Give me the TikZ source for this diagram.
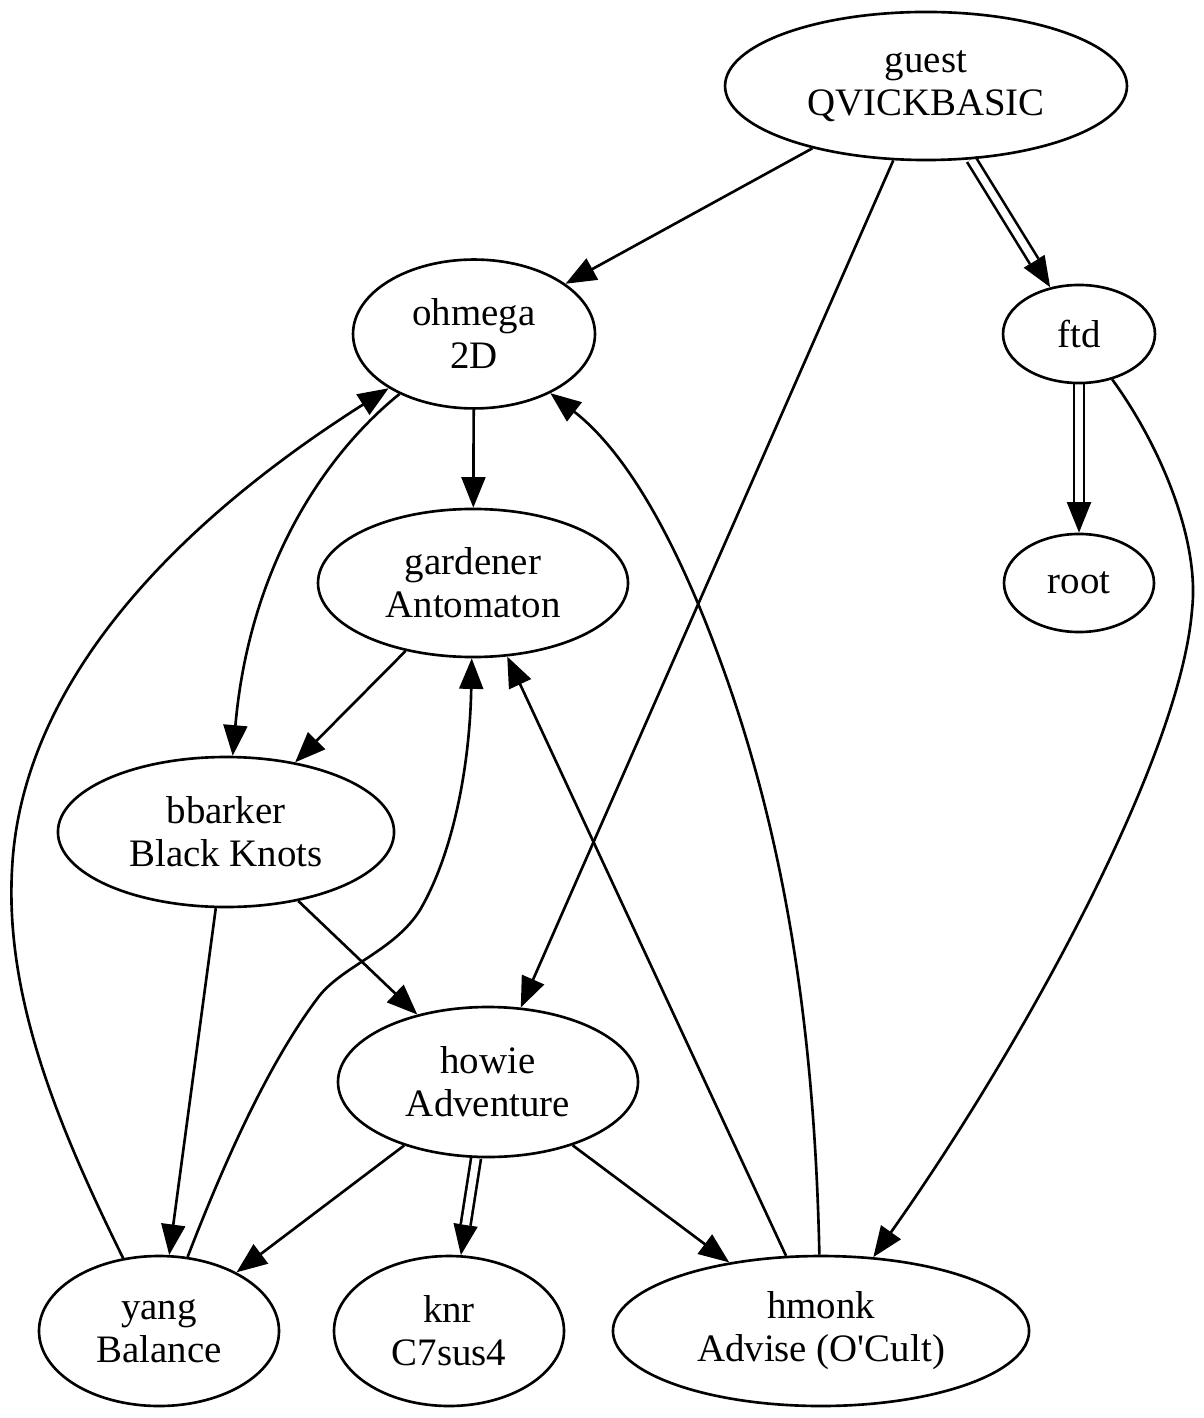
\documentclass[tikz,border=0pt]{standalone}
\usepackage{fontspec}
\setmainfont{Liberation Serif}
\usetikzlibrary{shapes.geometric,arrows.meta}
\pgfdeclarelayer{bg}
\pgfsetlayers{bg,main}
\begin{document}
\begin{tikzpicture}[x=0.36pt, y=-0.36pt,
  nd/.style={draw, ellipse, line width=0.95pt, inner sep=0pt, align=center,
    font=\fontsize{14}{15.5}\selectfont},
  edge/.style={draw, line width=0.95pt, -{Triangle[length=11pt,width=8.6pt]}},
  dblline/.style={draw, line width=0.95pt, double=white, double distance=2.6pt, shorten >=11pt}]
\useasboundingbox (0,0) rectangle (1203,1418);
\node[nd, minimum width=144.7pt, minimum height=53.3pt] (guest) at (926,86) {guest\\QVICKBASIC};
\node[nd, minimum width=87.1pt, minimum height=53.6pt] (ohmega) at (474,334) {ohmega\\2D};
\node[nd, minimum width=54.7pt, minimum height=35.3pt] (ftd) at (1079,334) {ftd};
\node[nd, minimum width=111.6pt, minimum height=53.3pt] (gardener) at (473,583) {gardener\\Antomaton};
\node[nd, minimum width=54pt, minimum height=35.3pt] (root) at (1079,583) {root};
\node[nd, minimum width=121pt, minimum height=54pt] (bbarker) at (226,832) {bbarker\\Black Knots};
\node[nd, minimum width=108pt, minimum height=54pt] (howie) at (488,1082) {howie\\Adventure};
\node[nd, minimum width=86.4pt, minimum height=54pt] (yang) at (159,1331) {yang\\Balance};
\node[nd, minimum width=82.8pt, minimum height=54pt] (knr) at (449,1331) {knr\\C7sus4};
\node[nd, minimum width=149.8pt, minimum height=54pt] (hmonk) at (821,1331) {hmonk\\Advise (O\textquotesingle Cult)};
\begin{pgfonlayer}{bg}
\draw[edge] (guest) -- (ohmega);
\draw[edge] (guest) -- (howie);
\draw[edge] (guest) -- (ftd);
\draw[dblline] (guest) -- (ftd);
\draw[edge] (ohmega) -- (gardener);
\draw[edge] (ohmega) .. controls (330,450) and (250,560) .. (bbarker);
\draw[edge] (ftd) -- (root);
\draw[dblline] (ftd) -- (root);
\draw[edge] (ftd) .. controls (1160,445) and (1200,540) .. (1192,610)
  .. controls (1180,760) and (1020,1050) .. (hmonk);
\draw[edge] (gardener) -- (bbarker);
\draw[edge] (bbarker) -- (howie);
\draw[edge] (bbarker) -- (yang);
\draw[edge] (howie) -- (yang);
\draw[edge] (howie) -- (knr);
\draw[dblline] (howie) -- (knr);
\draw[edge] (howie) -- (hmonk);
\draw[edge] (yang) .. controls (60,1130) and (5,1000) .. (12,870)
  .. controls (20,700) and (150,540) .. (ohmega);
\draw[edge] (yang) .. controls (225,1160) and (270,1060) .. (320,995)
  .. controls (345,965) and (395,950) .. (420,910)
  .. controls (455,850) and (470,760) .. (gardener);
\draw[edge] (hmonk) -- (gardener);
\draw[edge] (hmonk) .. controls (815,1050) and (790,850) .. (720,660)
  .. controls (680,550) and (630,455) .. (ohmega);
\end{pgfonlayer}
\end{tikzpicture}
\end{document}
